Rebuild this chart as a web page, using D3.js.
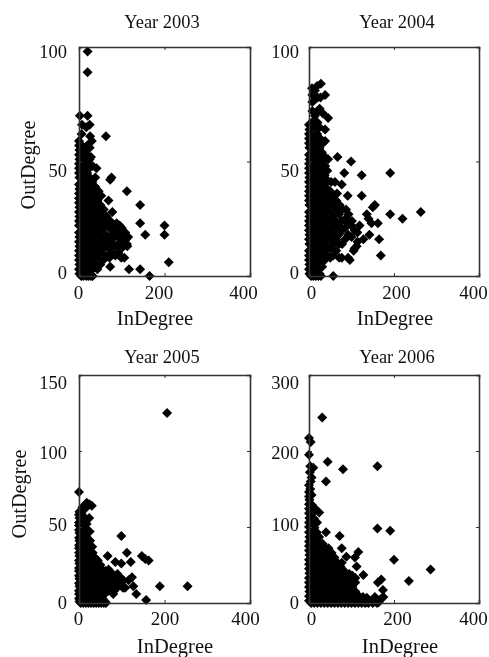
<!DOCTYPE html>
<html>
<head>
<meta charset="utf-8">
<script src="https://cdn.jsdelivr.net/npm/d3@7"></script>
<style>
  html, body { margin: 0; padding: 0; background: #fff; overflow: hidden; }
  svg { filter: blur(0.4px); }
  text { font-family: "Liberation Serif", serif; fill: #111; }
</style>
</head>
<body>
<div id="chart"></div>
<script>
// InDegree / OutDegree pairs
var points2003 = [
  [20,98],[20,89],[2,70],[20,70],[63,61],[73,42],[76,43],[112,37],[143,31],[143,23],[155,18],[200,22],[200,18],[210,6],[165,0],[143,3],[117,3],[73,4],[32,0],[78,28],[69,33],[46,37],
  [0,3],[0,7],[0,11],[0,15],[0,19],[0,24],[0,28],[0,32],[0,36],[0,40],[0,45],[0,49],[0,53],[0,57],[5,0],[10,0],[17,0],[22,0],[28,0],
  [1,1],[1,5],[0,9],[1,13],[1,17],[0,22],[1,26],[1,30],[0,34],[1,38],[1,43],[0,47],[1,51],[1,55],[0,59],
  [7,3],[7,7],[6,11],[7,15],[7,20],[6,24],[7,28],[7,32],[6,36],[7,41],[7,45],[6,49],[7,53],[7,57],[6,62],[7,66],
  [13,1],[13,5],[12,9],[13,13],[13,18],[12,22],[13,26],[13,30],[12,34],[13,39],[13,43],[12,47],[13,51],[13,55],
  [19,3],[19,7],[18,11],[19,16],[19,20],[18,24],[19,28],[19,32],[18,37],[19,41],[19,45],[18,49],[19,53],[19,57],[17,65],
  [25,1],[25,5],[24,9],[25,14],[25,18],[24,22],[25,26],[25,30],[24,35],[25,39],[25,43],[24,47],[25,51],[25,56],[26,61],[25,66],
  [31,3],[31,7],[30,12],[31,16],[31,20],[30,24],[31,28],[31,33],[30,37],[31,41],[32,48],[28,52],[30,59],
  [37,5],[37,10],[36,14],[37,18],[37,22],[36,26],[37,31],[37,35],[38,39],[38,43],[41,47],
  [43,3],[43,8],[42,12],[43,16],[43,20],[42,25],[43,29],[43,33],
  [50,5],[50,10],[49,14],[50,18],[50,23],[49,27],[50,31],[52,35],
  [57,7],[57,12],[56,16],[57,21],[57,25],[58,29],
  [64,9],[64,14],[63,18],[64,23],[65,26],
  [71,8],[71,12],[70,16],[71,21],[73,24],
  [78,10],[78,14],[77,18],[78,21],
  [85,9],[85,13],[84,17],[85,20],[88,23],
  [92,10],[92,14],[91,18],[93,21],[95,22],
  [99,8],[99,12],[99,16],[100,19],[100,21],
  [106,8],[106,14],[106,18],[108,19],
  [113,13],[115,17],[112,14],[110,16]
];

var points2004 = [
  [67,52],[99,50],[83,45],[124,44],[191,45],[124,35],[155,31],[150,30],[191,27],[220,25],[263,28],[136,27],[140,25],[162,23],[147,23],[165,16],[169,9],[57,0],[96,7],[77,8],[142,18],[128,16],[112,13],[105,11],[91,35],[77,40],[61,41],[45,51],[28,84],[38,79],[45,69],[33,71],[38,59],[38,64],
  [0,3],[0,7],[0,11],[0,16],[0,20],[0,24],[0,28],[0,33],[0,37],[0,41],[0,45],[0,49],[0,53],[0,58],[0,62],[0,66],[5,0],[10,0],[16,0],[22,0],[28,0],
  [1,1],[1,5],[0,9],[1,14],[1,18],[0,22],[1,26],[1,31],[0,35],[1,39],[1,43],[0,47],[1,51],[1,56],[0,60],[1,64],
  [7,3],[7,8],[6,12],[7,16],[7,20],[6,24],[7,29],[7,33],[6,37],[7,41],[7,45],[6,50],[7,54],[7,58],[6,62],[7,67],[8,72],[8,76],[8,79],[7,82],
  [13,1],[13,5],[13,10],[12,14],[13,18],[13,22],[12,27],[13,31],[13,35],[12,39],[13,43],[13,48],[12,52],[13,56],[13,60],[14,65],[14,70],[13,77],[14,81],
  [19,3],[19,8],[19,12],[18,16],[19,20],[19,25],[18,29],[19,33],[19,37],[18,41],[19,46],[19,50],[18,54],[19,58],[19,62],[20,67],[20,72],[20,78],[19,83],
  [25,1],[25,6],[25,10],[24,14],[25,18],[25,23],[24,27],[25,31],[25,35],[24,39],[25,44],[25,48],[24,52],[25,56],[26,60],[25,65],[27,78],[25,73],
  [31,4],[31,9],[30,13],[31,17],[31,21],[30,25],[31,29],[31,34],[30,38],[31,42],[31,46],[30,50],[30,54],[32,58],
  [37,7],[37,11],[36,15],[37,19],[37,23],[36,27],[37,32],[37,36],[36,40],[37,44],[38,48],[38,52],
  [43,9],[43,13],[42,17],[43,21],[43,25],[42,30],[43,34],[43,38],[42,42],[43,46],
  [50,8],[50,12],[50,16],[49,20],[50,24],[50,28],[49,33],[50,37],[52,41],
  [57,9],[57,14],[56,18],[57,22],[57,26],[56,31],[57,35],
  [64,11],[64,16],[64,20],[63,24],[64,29],[64,33],[66,36],
  [71,8],[71,14],[70,18],[71,22],[71,27],[72,31],
  [78,14],[78,20],[77,24],[78,29],
  [85,16],[85,21],[86,25],[87,29],
  [92,8],[92,18],[91,23],[93,27],
  [100,17],[100,22],[101,24],
  [107,12],[107,20],
  [114,15],[114,19],[119,22]
];

var points2005 = [
  [206,125],[99,44],[0,73],[67,31],[112,33],[147,31],[163,28],[155,29],[121,27],[85,27],[99,26],[189,11],[254,11],[157,2],[127,11],[134,6],[124,17],[116,15],[108,10],[80,6],[24,56],[30,64],[18,66],[24,65],
  [0,3],[0,8],[0,13],[0,18],[0,23],[0,28],[0,33],[0,38],[0,43],[0,48],[0,53],[0,58],[4,0],[10,0],[16,0],[22,0],[28,0],[34,0],[40,0],[46,0],[52,0],[58,0],[63,0],
  [1,1],[0,6],[1,11],[1,16],[0,21],[1,26],[1,31],[0,36],[1,41],[1,46],[0,51],[1,56],[1,60],
  [7,3],[6,8],[7,13],[7,18],[6,23],[7,28],[7,33],[6,38],[7,43],[7,48],[6,53],[7,58],[8,63],
  [13,1],[12,6],[13,11],[13,16],[12,21],[13,26],[13,31],[12,36],[13,41],[13,46],[12,51],[13,56],[14,62],
  [19,3],[18,8],[19,13],[19,18],[18,23],[19,28],[19,33],[18,38],[19,43],[19,48],[18,52],
  [25,1],[24,6],[25,11],[25,16],[24,21],[25,26],[25,31],[24,36],[26,41],[25,47],
  [31,3],[30,8],[31,13],[31,18],[30,23],[31,28],[32,33],[31,37],
  [37,1],[36,6],[37,11],[37,16],[36,21],[37,26],[37,30],
  [43,3],[42,8],[43,13],[43,18],[42,23],[44,28],
  [49,1],[48,6],[49,11],[49,16],[48,21],[50,25],
  [55,3],[54,8],[55,13],[55,18],[54,22],
  [61,1],[60,6],[61,11],[61,16],[62,21],
  [68,8],[68,13],[68,18],[69,22],
  [75,10],[75,15],[75,20],
  [82,8],[82,13],[83,18],
  [89,10],[89,15],[90,19],
  [96,12],[96,17],
  [103,10],[104,15]
];

var points2006 = [
  [31,244],[0,217],[4,212],[0,195],[44,186],[80,176],[161,180],[40,160],[10,178],[2,172],[6,165],[0,155],[24,119],[40,93],[72,88],[161,98],[191,95],[200,57],[286,44],[235,29],[170,31],[162,27],[174,17],[116,67],[108,60],[88,61],[77,72],[77,53],[112,48],[128,37],[175,8],
  [0,9],[0,21],[0,33],[0,45],[0,57],[0,69],[0,81],[0,93],[0,106],[0,118],[0,130],[0,140],[3,150],[4,160],[3,180],
  [5,0],[12,0],[20,0],[28,0],[36,0],[44,0],[52,0],[60,0],[68,0],[76,0],[84,0],[92,0],[100,0],[108,0],[116,0],[124,0],[132,0],[140,0],[150,0],[160,0],
  [46,72],[53,66],[60,60],[67,53],[74,48],[81,43],[88,38],[95,38],[102,36],[109,33],
  [0,3],[1,15],[0,27],[1,39],[0,51],[1,63],[0,75],[1,87],[0,100],[1,112],[0,124],[1,136],[0,146],
  [7,9],[6,21],[7,33],[6,45],[7,57],[6,69],[7,81],[6,93],[7,105],[6,117],[7,129],[6,142],
  [13,3],[12,15],[13,27],[12,39],[13,51],[12,63],[13,75],[12,87],[13,99],[12,111],[13,125],
  [19,9],[18,21],[19,33],[18,45],[19,57],[18,69],[19,81],[18,93],[19,106],
  [25,3],[24,15],[25,27],[24,39],[25,51],[24,63],[25,75],[24,87],
  [32,9],[31,21],[32,33],[31,45],[32,57],[31,69],[32,78],
  [39,3],[38,15],[39,27],[38,39],[39,51],[38,63],[39,72],
  [46,9],[45,21],[46,33],[45,45],[46,57],[47,66],
  [53,3],[52,15],[53,27],[52,39],[53,51],[53,60],
  [60,9],[59,21],[60,33],[59,45],[61,54],
  [67,3],[66,15],[67,27],[66,39],[67,47],
  [74,9],[73,21],[74,33],[75,42],
  [81,3],[80,15],[81,27],[81,37],
  [88,9],[87,21],[88,32],
  [95,3],[94,15],[95,27],[96,34],
  [102,9],[102,21],[103,31],
  [109,4],[109,15],[109,27],
  [118,3],[118,9],[127,2],[127,8],[136,1],[136,7],[146,3],[155,2],[155,8],[164,1],[168,5]
];

var years = ["Year 2003", "Year 2004", "Year 2005", "Year 2006"];
var seriesList = [points2003, points2004, points2005, points2006];
var inTicks = [0, 200, 400];
var outMax = [100, 100, 150, 300];
var outTicks = [[0, 50, 100], [0, 50, 100], [0, 50, 100, 150], [0, 100, 200, 300]];

var width = 489, height = 657;

// panel boxes and the hand nudges of the labels, same order as years
var layout = [
  {left: 79,  right: 250, top: 47,  bottom: 276, titleX: 162, titleY: 28,  xLabelX: 155, xLabelY: 325,   yLabelX: 35, yLabelY: 165, xTickY: 299, xShift: [-1, -6, -7], yEnd: 67,  yShift: [2, 15, 10]},
  {left: 309, right: 479, top: 47,  bottom: 276, titleX: 397, titleY: 28,  xLabelX: 395, xLabelY: 325,   yLabelX: 0,  yLabelY: 0,   xTickY: 299, xShift: [2, 2, -6],   yEnd: 299, yShift: [2, 15, 10]},
  {left: 79,  right: 250, top: 375, bottom: 603, titleX: 162, titleY: 363, xLabelX: 175, xLabelY: 652.5, yLabelX: 26, yLabelY: 494, xTickY: 625, xShift: [-1, 0, -5],  yEnd: 67,  yShift: [5, 3, 7, 13]},
  {left: 309, right: 479, top: 375, bottom: 603, titleX: 397, titleY: 363, xLabelX: 400, xLabelY: 652.5, yLabelX: 0,  yLabelY: 0,   xTickY: 625, xShift: [2, 3, -6],   yEnd: 299, yShift: [5, 3, 7, 13]}
];

var svg = d3.select("#chart")
            .append("svg")
            .attr("width", width)
            .attr("height", height);

// square on its corner, reads as the filled diamond of the plot
var marker = d3.symbol().type(d3.symbolSquare).size(50);

seriesList.forEach(function(points, i){

  var box = layout[i];

  var x = d3.scaleLinear().domain([0, 400]).range([box.left, box.right]);
  var y = d3.scaleLinear().domain([0, outMax[i]]).range([box.bottom, box.top]);

  var panel = svg.append("g").attr("class", "panel");

  panel.selectAll("path.point")
       .data(points)
       .enter()
       .append("path")
       .attr("class", "point")
       .attr("d", marker)
       .attr("fill", "#000")
       .attr("transform", function(d){ return "translate(" + x(d[0]) + "," + y(d[1]) + ") rotate(45)"; });

  // ticks point inward on all four sides
  var bottomAxis = d3.axisBottom(x).tickValues(inTicks).tickSize(-3).tickFormat(d3.format("d"));
  var topAxis = d3.axisTop(x).tickValues(inTicks).tickSize(-3).tickFormat("");
  var leftAxis = d3.axisLeft(y).tickValues(outTicks[i]).tickSize(-3).tickFormat(d3.format("d"));
  var rightAxis = d3.axisRight(y).tickValues(outTicks[i]).tickSize(-3).tickFormat("");

  var gBottom = panel.append("g").attr("transform", "translate(0," + box.bottom + ")").call(bottomAxis);
  panel.append("g").attr("transform", "translate(0," + box.top + ")").call(topAxis);
  var gLeft = panel.append("g").attr("transform", "translate(" + box.left + ",0)").call(leftAxis);
  panel.append("g").attr("transform", "translate(" + box.right + ",0)").call(rightAxis);

  panel.selectAll(".domain").attr("stroke", "#333").attr("stroke-width", 1.6);
  panel.selectAll(".tick line").attr("stroke", "#333").attr("stroke-width", 1);

  gBottom.selectAll("text")
         .attr("font-size", 19)
         .attr("font-family", null)
         .attr("fill", null)
         .attr("text-anchor", "middle")
         .attr("dy", null)
         .attr("x", function(d, k){ return box.xShift[k]; })
         .attr("y", box.xTickY - box.bottom);

  gLeft.selectAll("text")
       .attr("font-size", 18.5)
       .attr("font-family", null)
       .attr("fill", null)
       .attr("text-anchor", "end")
       .attr("dy", null)
       .attr("x", box.yEnd - box.left)
       .attr("y", function(d, k){ return box.yShift[k]; });

  panel.append("text")
       .attr("x", box.titleX)
       .attr("y", box.titleY)
       .attr("text-anchor", "middle")
       .attr("font-size", 18.4)
       .text(years[i]);

  panel.append("text")
       .attr("x", box.xLabelX)
       .attr("y", box.xLabelY)
       .attr("text-anchor", "middle")
       .attr("font-size", 20.5)
       .text("InDegree");

  if(box.yLabelX){
    panel.append("text")
         .attr("transform", "translate(" + box.yLabelX + "," + box.yLabelY + ") rotate(-90)")
         .attr("text-anchor", "middle")
         .attr("font-size", 20.3)
         .text("OutDegree");
  }
});
</script>
</body>
</html>
